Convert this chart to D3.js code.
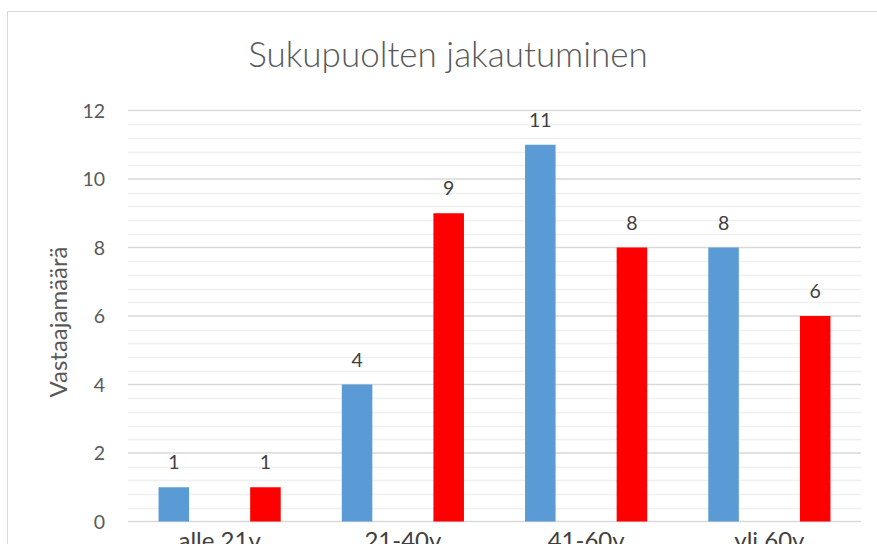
<!DOCTYPE html>
<head>
  <meta charset="utf-8">
  <title>Sukupuolten jakautuminen</title>
  <style>
  body { margin: 0; background: #fff; overflow: hidden; }
  .title { font: 300 35px Lato, "Open Sans", sans-serif; fill: #595959; }
  .tickLabel { font: 19.5px Lato, "Open Sans", sans-serif; fill: #595959; }
  .axisLabel { font: 24px Lato, "Open Sans", sans-serif; fill: #595959; }
  .valueLabel { font: 19.5px Lato, "Open Sans", sans-serif; fill: #404040; }
  .catLabel { font: 24px Lato, "Open Sans", sans-serif; fill: #404040; }
  </style>
</head>
<body>
  <script src="https://cdn.jsdelivr.net/npm/d3@7"></script>
  <script>
    // chart data
    const categories = ["alle 21v", "21-40v", "41-60v", "yli 60v"];
    const seriesNames = ["sarja1", "sarja2"];
    const blueValues = [1, 4, 11, 8];
    const redValues = [1, 9, 8, 6];
    const colors = ["#5B9BD5", "#FF0000"];
    const yTicks = [0, 2, 4, 6, 8, 10, 12];

    const width = 877, height = 544;
    const plot = { left: 128, right: 861, top: 110.5, bottom: 521.5 };

    const svg = d3.select("body").append("svg")
      .attr("width", width)
      .attr("height", height);

    // chart border (Excel frame)
    svg.append("path")
      .attr("d", `M7.5,${height} V11.5 H${width}`)
      .attr("fill", "none")
      .attr("stroke", "#D9D9D9")
      .attr("stroke-width", 1);

    let yScale = d3.scaleLinear()
      .domain([0, 12])
      .range([plot.bottom, plot.top]);

    let xScale = d3.scaleBand()
      .domain(categories)
      .range([plot.left, plot.right])
      .padding(0);

    let xSub = d3.scaleBand()
      .domain(seriesNames)
      .range([0, xScale.bandwidth()])
      .paddingInner(2 / 3)
      .paddingOuter(1 / 3);

    // minor gridlines
    svg.append("g")
      .attr("id", "minor-grid")
      .selectAll("line")
      .data(d3.range(0, 31).map(i => i * 0.4).filter(v => Math.abs(v / 2 - Math.round(v / 2)) > 1e-6))
      .enter()
      .append("line")
      .attr("x1", plot.left)
      .attr("x2", plot.right)
      .attr("y1", d => Math.round(yScale(d)) + 0.5)
      .attr("y2", d => Math.round(yScale(d)) + 0.5)
      .attr("stroke", "#F0F0F0")
      .attr("stroke-width", 1.5);

    // major gridlines
    svg.append("g")
      .attr("id", "major-grid")
      .selectAll("line")
      .data(yTicks)
      .enter()
      .append("line")
      .attr("x1", plot.left)
      .attr("x2", plot.right)
      .attr("y1", d => yScale(d))
      .attr("y2", d => yScale(d))
      .attr("stroke", "#D9D9D9")
      .attr("stroke-width", 1.5);

    // y tick labels
    svg.append("g")
      .selectAll("text")
      .data(yTicks)
      .enter()
      .append("text")
      .attr("class", "tickLabel")
      .attr("x", 105)
      .attr("y", d => yScale(d) + 7)
      .attr("text-anchor", "end")
      .text(d => d);

    // bars
    const rows = categories.map((c, i) => ({
      category: c,
      values: [blueValues[i], redValues[i]]
    }));

    const groups = svg.append("g")
      .attr("id", "bars")
      .selectAll("g")
      .data(rows)
      .enter()
      .append("g")
      .attr("transform", d => `translate(${xScale(d.category)},0)`);

    groups.selectAll("rect")
      .data(d => d.values.map((v, j) => ({ key: seriesNames[j], value: v, color: colors[j] })))
      .enter()
      .append("rect")
      .attr("x", d => xSub(d.key))
      .attr("y", d => yScale(d.value))
      .attr("width", xSub.bandwidth())
      .attr("height", d => yScale(0) - yScale(d.value))
      .attr("fill", d => d.color);

    groups.selectAll("text")
      .data(d => d.values.map((v, j) => ({ key: seriesNames[j], value: v })))
      .enter()
      .append("text")
      .attr("class", "valueLabel")
      .attr("x", d => xSub(d.key) + xSub.bandwidth() / 2)
      .attr("y", d => yScale(d.value) - 18)
      .attr("text-anchor", "middle")
      .text(d => d.value);

    // category labels (cut off at the bottom like the original)
    svg.append("g")
      .selectAll("text")
      .data(categories)
      .enter()
      .append("text")
      .attr("class", "catLabel")
      .attr("x", d => xScale(d) + xScale.bandwidth() / 2)
      .attr("y", 549)
      .attr("text-anchor", "middle")
      .text(d => d);

    // y axis title
    svg.append("text")
      .attr("class", "axisLabel")
      .attr("transform", `translate(67,322) rotate(-90)`)
      .attr("text-anchor", "middle")
      .text("Vastaajamäärä");

    // chart title
    svg.append("text")
      .attr("class", "title")
      .attr("x", 448)
      .attr("y", 67)
      .attr("text-anchor", "middle")
      .text("Sukupuolten jakautuminen");
  </script>
</body>
